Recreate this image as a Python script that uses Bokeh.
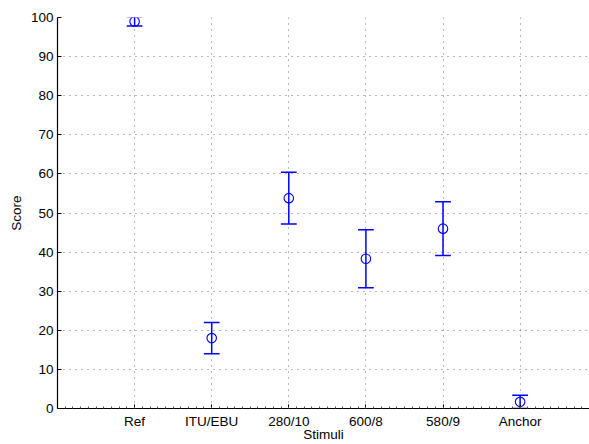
from bokeh.plotting import figure
from bokeh.models import FixedTicker, Range1d
from bokeh.embed import file_html
from bokeh.resources import INLINE

# ---- data ----
stimuli = ["Ref", "ITU/EBU", "280/10", "600/8", "580/9", "Anchor"]
positions = [1, 2, 3, 4, 5, 6]
mean_scores = [99.0, 18.0, 53.8, 38.3, 46.0, 1.7]
ci_half = [1.2, 4.0, 6.6, 7.4, 6.9, 1.7]
y_ticks = [0, 10, 20, 30, 40, 50, 60, 70, 80, 90, 100]

lower = [m - c for m, c in zip(mean_scores, ci_half)]
upper = [m + c for m, c in zip(mean_scores, ci_half)]

BLUE = "#0000ff"
FONT = "Liberation Sans"
CAP = 0.102

p = figure(width=589, height=444, output_backend="svg", toolbar_location=None,
           x_range=Range1d(0, 6.9), y_range=Range1d(0, 100),
           min_border_left=57, min_border_right=0, min_border_top=17,
           min_border_bottom=34)
p.outline_line_color = None
p.background_fill_color = "white"
p.border_fill_color = "white"

# error bars
p.segment(x0=positions, y0=lower, x1=positions, y1=upper,
          line_color=BLUE, line_width=1.5)
p.segment(x0=[x - CAP for x in positions], y0=lower,
          x1=[x + CAP for x in positions], y1=lower,
          line_color=BLUE, line_width=1.5)
p.segment(x0=[x - CAP for x in positions], y0=upper,
          x1=[x + CAP for x in positions], y1=upper,
          line_color=BLUE, line_width=1.5)
p.scatter(x=positions, y=mean_scores, marker="circle", size=9.5,
          fill_color=None, line_color=BLUE, line_width=1.1)

# axes
minor = [i / 10 for i in range(0, 70)]
p.xaxis.ticker = FixedTicker(ticks=positions, minor_ticks=minor)
p.xaxis.major_label_overrides = {x: s for x, s in zip(positions, stimuli)}
p.yaxis.ticker = FixedTicker(ticks=y_ticks, minor_ticks=[])

for ax in (p.xaxis, p.yaxis):
    ax.axis_line_color = "black"
    ax.axis_line_width = 1.2
    ax.major_tick_in = 4
    ax.major_tick_out = 0
    ax.major_tick_line_color = "black"
    ax.major_label_text_font = FONT
    ax.major_label_text_font_size = "13.5px"
    ax.major_label_text_color = "black"
    ax.major_label_text_line_height = 1.0
    ax.axis_label_text_font = FONT
    ax.axis_label_text_font_size = "13.5px"
    ax.axis_label_text_font_style = "normal"
    ax.axis_label_text_color = "black"
    ax.axis_label_text_line_height = 1.0

p.xaxis.minor_tick_in = 2
p.xaxis.minor_tick_out = 0
p.xaxis.minor_tick_line_color = "#555555"
p.yaxis.minor_tick_in = 0
p.yaxis.minor_tick_out = 0

p.xaxis.axis_label = "Stimuli"
p.yaxis.axis_label = "Score"
p.xaxis.major_label_standoff = 5
p.xaxis.axis_label_standoff = -5
p.yaxis.major_label_standoff = 4
p.yaxis.axis_label_standoff = 4

# grid
for g in (p.xgrid, p.ygrid):
    g.grid_line_color = "#333333"
    g.grid_line_alpha = 0.7
    g.grid_line_dash = "1 5"
    g.grid_line_width = 1

open("out.html", "w").write(file_html(p, INLINE))
